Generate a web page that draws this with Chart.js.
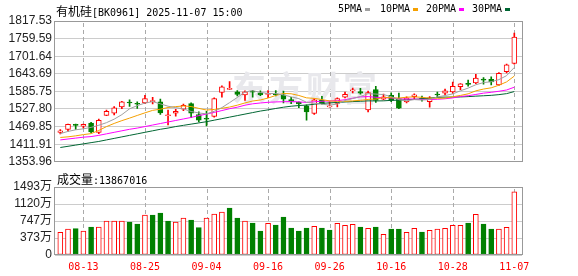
<!DOCTYPE html>
<html><head><meta charset="utf-8">
<script src="https://cdn.jsdelivr.net/npm/chart.js@4.4.1/dist/chart.umd.min.js"></script>
<style>
html,body{margin:0;padding:0;background:#fff;width:578px;height:276px;overflow:hidden;position:relative}
canvas{position:absolute;left:0}
#c1{top:0}
#c2{top:172px}
.t{position:absolute;white-space:nowrap;color:#000;line-height:1}
.m{font-family:'DejaVu Sans Mono','Liberation Mono',monospace;font-size:10px}
.cj{font-family:'Noto Sans CJK SC',sans-serif;font-size:12px}
.sq{position:absolute;width:5px;height:3px}
</style></head><body>
<canvas id="c1" width="578" height="172"></canvas>
<canvas id="c2" width="578" height="104"></canvas>
<div class="t" style="left:56px;top:3px"><span class="cj">有机硅</span><span class="m">[BK0961] 2025-11-07 15:00</span></div>
<div class="t m" style="left:338px;top:4px">5PMA</div><div class="sq" style="left:365px;top:8px;background:#a0a0a0"></div>
<div class="t m" style="left:380px;top:4px">10PMA</div><div class="sq" style="left:413px;top:8px;background:#f5a000"></div>
<div class="t m" style="left:426px;top:4px">20PMA</div><div class="sq" style="left:459px;top:8px;background:#ff00ff"></div>
<div class="t m" style="left:472px;top:4px">30PMA</div><div class="sq" style="left:505px;top:8px;background:#006633"></div>
<div class="t" style="left:57px;top:171px"><span class="cj">成交量</span><span class="m">:13867016</span></div>
<script>
const dates = ['08-08','08-11','08-12','08-13','08-14','08-15','08-18','08-19','08-20','08-21','08-22','08-25','08-26','08-27','08-28','08-29','09-01','09-02','09-03','09-04','09-05','09-08','09-09','09-10','09-11','09-12','09-15','09-16','09-17','09-18','09-19','09-22','09-23','09-24','09-25','09-26','09-29','09-30','10-09','10-10','10-13','10-14','10-15','10-16','10-17','10-20','10-21','10-22','10-23','10-24','10-27','10-28','10-29','10-30','10-31','11-03','11-04','11-05','11-06','11-07'];
const openP = [1450.9,1460.4,1477.2,1470.9,1481.4,1450.9,1506.5,1513.9,1534.9,1550.7,1546.5,1547.5,1551.7,1551.7,1505.5,1513.9,1527.6,1545.4,1509.7,1497.2,1503.4,1582.2,1592.6,1584.3,1573.8,1586.4,1581.1,1575.9,1578.0,1574.8,1559.0,1549.6,1538.0,1512.9,1556.0,1534.9,1546.5,1566.4,1587.4,1585.3,1524.4,1591.6,1560.1,1572.7,1562.2,1550.7,1568.5,1563.3,1551.7,1575.9,1580.1,1584.3,1601.0,1612.0,1613.7,1626.3,1625.2,1607.4,1650.4,1677.7];
const highP = [1460.3,1478.2,1478.2,1478.2,1483.5,1495.0,1524.4,1536.0,1552.7,1558.0,1551.7,1572.7,1566.4,1560.1,1524.4,1526.5,1544.4,1548.5,1518.1,1520.0,1564.3,1604.2,1617.9,1588.5,1587.4,1589.5,1587.4,1588.5,1588.5,1586.4,1566.4,1551.7,1541.2,1561.2,1569.6,1551.7,1564.3,1583.2,1596.9,1595.8,1586.4,1602.1,1576.9,1581.1,1580.1,1567.5,1578.0,1570.6,1568.5,1583.2,1593.7,1616.8,1611.5,1623.1,1642.0,1631.5,1633.6,1647.3,1675.6,1777.5];
const lowP = [1445.7,1454.0,1460.4,1464.5,1448.8,1446.7,1505.5,1508.6,1528.6,1536.0,1529.7,1545.4,1544.4,1509.7,1475.0,1504.5,1522.3,1499.2,1485.5,1472.0,1501.3,1566.4,1591.6,1570.6,1555.9,1566.4,1571.7,1565.3,1570.6,1547.5,1545.4,1531.8,1490.8,1509.7,1543.3,1533.9,1534.9,1564.3,1581.1,1576.9,1518.1,1549.6,1558.0,1551.7,1528.6,1547.5,1562.2,1553.8,1533.9,1566.4,1574.8,1579.0,1591.6,1603.1,1611.5,1609.4,1607.4,1605.3,1646.2,1675.6];
const closeP = [1456.1,1477.2,1474.0,1477.2,1452.0,1490.8,1520.2,1531.7,1551.7,1547.5,1543.3,1562.2,1555.9,1515.0,1508.7,1520.2,1540.1,1513.9,1490.8,1494.0,1562.2,1601.0,1595.8,1575.9,1584.3,1583.2,1573.8,1578.0,1574.8,1560.1,1552.8,1544.4,1518.1,1558.0,1545.4,1537.0,1562.2,1575.9,1590.5,1580.1,1582.2,1556.0,1567.5,1556.0,1530.7,1564.3,1574.8,1560.1,1564.3,1573.8,1587.4,1602.1,1611.0,1608.5,1629.4,1623.1,1616.8,1645.2,1673.6,1764.9];
const volume = [498,571,578,527,615,615,746,746,746,724,680,878,878,922,746,724,812,768,600,812,900,944,1032,812,746,702,527,695,659,834,593,527,593,630,593,549,695,651,673,615,585,615,454,571,571,498,585,505,542,571,585,651,651,702,893,680,571,571,607,1386.7];
const ma5 = [1446.7,1454.0,1459.3,1462.5,1467.3,1474.2,1482.8,1494.4,1509.3,1528.4,1538.9,1547.3,1552.1,1544.8,1537.0,1532.4,1528.0,1519.6,1514.7,1511.8,1520.2,1532.4,1548.8,1565.8,1583.8,1588.0,1582.6,1579.0,1578.8,1574.0,1567.9,1562.0,1550.0,1546.7,1543.7,1540.6,1544.1,1555.7,1562.2,1569.1,1578.2,1576.9,1575.3,1568.4,1558.5,1554.9,1558.7,1557.2,1558.8,1567.5,1572.1,1577.5,1587.7,1596.6,1607.6,1614.7,1617.7,1624.5,1637.6,1664.7];
const ma10 = [1434.1,1436.2,1439.4,1443.5,1446.7,1457.2,1469.8,1480.3,1489.5,1497.8,1506.6,1515.1,1523.3,1527.1,1532.7,1535.7,1537.7,1535.9,1529.8,1524.4,1526.3,1530.2,1534.2,1540.3,1547.8,1554.1,1557.5,1563.9,1572.3,1578.9,1578.0,1572.3,1564.5,1562.8,1558.9,1554.3,1553.1,1552.9,1554.5,1556.4,1559.4,1560.5,1565.5,1565.3,1563.8,1566.6,1567.8,1566.3,1563.6,1563.0,1563.5,1568.1,1572.5,1577.7,1587.6,1593.4,1597.6,1606.1,1617.1,1636.2];
const ma20 = [1426,1429,1432,1435,1437,1441,1446,1451,1456,1461,1465,1470,1475,1480,1485,1490,1495,1500,1506,1511.1,1516.5,1522.7,1528.8,1533.7,1540.3,1544.9,1547.6,1549.9,1551.1,1551.7,1552.2,1551.3,1549.4,1551.6,1553.4,1554.2,1555.3,1558.4,1563.4,1567.7,1568.7,1566.4,1565.0,1564.1,1561.4,1560.5,1560.5,1559.6,1559.1,1559.7,1561.5,1564.3,1569.0,1571.5,1575.7,1580.0,1582.7,1586.2,1590.4,1599.6];
const ma30 = [1401,1405,1409,1413,1417,1421,1426,1431,1436,1441,1446,1451,1456,1461,1465,1470,1474,1478,1482,1486,1491,1496,1501,1506,1511,1516,1521,1525,1529.5,1533.7,1537.0,1539.2,1540.7,1543.4,1546.5,1548.0,1549.4,1550.9,1552.2,1553.3,1554.6,1554.3,1554.7,1556.2,1556.9,1558.4,1559.5,1561.0,1563.5,1566.1,1567.0,1567.0,1567.5,1568.6,1570.1,1571.4,1572.8,1575.1,1578.4,1585.2];
const priceTicks = [1353.96,1411.91,1469.85,1527.80,1585.75,1643.69,1701.64,1759.59,1817.53];
const volTicks = [0,373.25,746.5,1119.75,1493];
const volTickLabels = ['0','373万','747万','1120万','1493万'];
const dateTickIdx = [3,11,19,27,35,43,51,59];

const RED = '#ff0000', GREEN = '#008000';
const X_MIN = -0.69, X_MAX = 60;
const candleUp = i => closeP[i] >= openP[i];
const volUp = i => i === 0 ? closeP[0] >= openP[0] : closeP[i] >= closeP[i-1];

function drawVGrid(chart, color) {
  const ctx = chart.ctx;
  const a = chart.chartArea;
  const sx = chart.scales.x;
  ctx.save();
  ctx.fillStyle = color;
  for (const v of dateTickIdx) {
    const px = Math.round(sx.getPixelForValue(v));
    for (let y = Math.round(a.top) + 2; y < a.bottom - 1; y += 7) {
      ctx.fillRect(px, y, 1, Math.min(4, a.bottom - 1 - y));
    }
  }
  ctx.restore();
}
const frame = {
  id: 'frame',
  afterDraw(chart) {
    const {ctx, chartArea: a} = chart;
    ctx.save();
    ctx.strokeStyle = '#999';
    ctx.lineWidth = 1;
    ctx.strokeRect(Math.round(a.left) - 0.5, Math.round(a.top) + 0.5, Math.round(a.right - a.left) + 1, Math.round(a.bottom - a.top) - 1);
    ctx.restore();
  }
};
const vgrid = { id: 'vgrid', beforeDatasetsDraw(chart) { drawVGrid(chart, '#aaaaaa'); } };
const watermark = {
  id: 'wm',
  beforeDatasetsDraw(chart) {
    const ctx = chart.ctx;
    ctx.save();
    ctx.fillStyle = '#e8e8ec';
    ctx.font = "bold 34px 'Noto Sans CJK SC'";
    ctx.textBaseline = 'middle';
    if ('letterSpacing' in ctx) ctx.letterSpacing = '3px';
    ctx.fillText('东方财富', 232, 88);
    ctx.restore();
  }
};

const xScaleBase = () => ({
  type: 'linear', min: X_MIN, max: X_MAX, offset: false,
  afterBuildTicks: s => { s.ticks = dateTickIdx.map(v => ({value: v})); },
  grid: {display: false, offset: false, drawTicks: false, tickLength: 0},
  border: {display: false},
});

const pts = arr => arr.map((v, i) => ({x: i, y: v}));
const maLine = (arr, color) => ({type: 'line', data: pts(arr), borderColor: color, borderWidth: 1, pointRadius: 0, tension: 0, order: -1});

new Chart(document.getElementById('c1'), {
  type: 'bar',
  data: {datasets: [
    maLine(ma5, '#a0a0a0'),
    maLine(ma10, '#f5a000'),
    maLine(ma20, '#ff00ff'),
    maLine(ma30, '#006633'),
    {data: dates.map((d, i) => ({x: i, y: [openP[i], closeP[i]]})), grouped: false, barThickness: 5, minBarLength: 1,
     borderSkipped: false, borderWidth: 1,
     backgroundColor: c => candleUp(c.dataIndex) ? '#ffffff' : GREEN,
     borderColor: c => candleUp(c.dataIndex) ? RED : GREEN, order: 1},
    {data: dates.map((d, i) => ({x: i, y: [lowP[i], highP[i]]})), grouped: false, barThickness: 1, borderWidth: 0,
     backgroundColor: c => candleUp(c.dataIndex) ? RED : GREEN, order: 2}
  ]},
  options: {
    responsive: false, animation: false,
    layout: {padding: {top: 21, right: 56, bottom: 6, left: 0}},
    plugins: {legend: {display: false}, tooltip: {enabled: false}},
    scales: {
      x: Object.assign(xScaleBase(), {ticks: {display: false}, afterFit: s => { s.height = 0; }}),
      y: {min: priceTicks[0], max: priceTicks[priceTicks.length - 1],
          afterBuildTicks: s => { s.ticks = priceTicks.map(v => ({value: v})); },
          ticks: {autoSkip: false, callback: (v, i) => priceTicks[i].toFixed(2), font: {family: "'Liberation Sans', Arial, sans-serif", size: 12}, color: '#222', padding: 3},
          grid: {color: '#cccccc', drawTicks: false}, border: {display: false},
          afterFit: s => { s.width = 55; }}
    }
  },
  plugins: [vgrid, watermark, frame]
});

new Chart(document.getElementById('c2'), {
  type: 'bar',
  data: {datasets: [
    {data: volume.map((v, i) => ({x: i, y: v})), grouped: false, barThickness: 5, borderSkipped: false, borderWidth: 1,
     backgroundColor: c => volUp(c.dataIndex) ? '#ffffff' : GREEN,
     borderColor: c => volUp(c.dataIndex) ? RED : GREEN}
  ]},
  options: {
    responsive: false, animation: false,
    layout: {padding: {top: 15, right: 56, bottom: 0, left: 0}},
    plugins: {legend: {display: false}, tooltip: {enabled: false}},
    scales: {
      x: Object.assign(xScaleBase(), {
        ticks: {callback: v => dates[v], color: RED, padding: 6, maxRotation: 0, autoSkip: false,
                font: {family: "'DejaVu Sans Mono', monospace", size: 10}},
        afterFit: s => { s.height = 21; }}),
      y: {min: 0, max: volTicks[volTicks.length - 1],
          afterBuildTicks: s => { s.ticks = volTicks.map(v => ({value: v})); },
          ticks: {autoSkip: false, callback: (v, i) => volTickLabels[i], font: {family: "'Liberation Sans', 'Noto Sans CJK SC', sans-serif", size: 12}, color: '#222', padding: 3},
          grid: {color: '#cccccc', drawTicks: false}, border: {display: false},
          afterFit: s => { s.width = 55; }}
    }
  },
  plugins: [vgrid, frame]
});
</script>
</body></html>
